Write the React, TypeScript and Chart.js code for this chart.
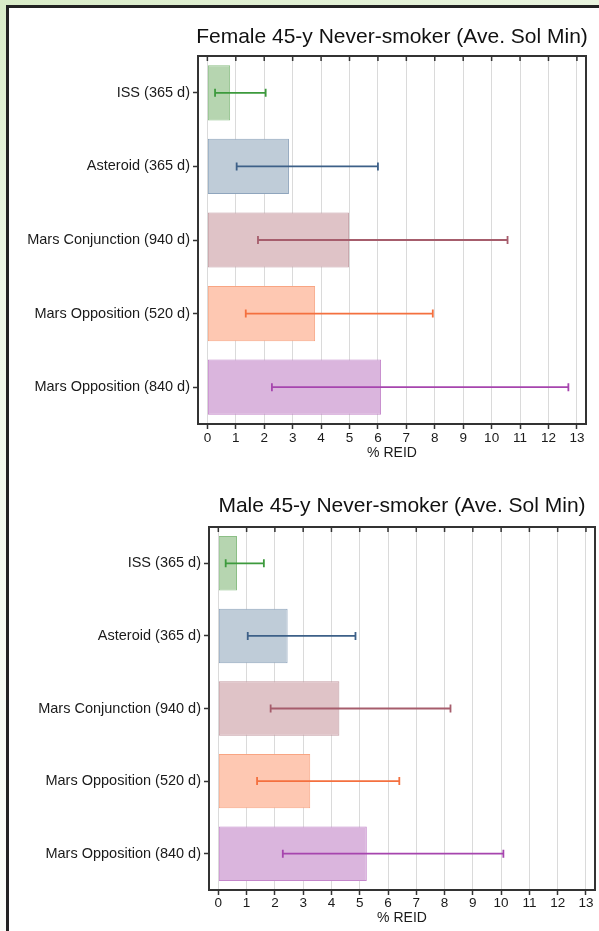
import React, { useEffect, useRef } from "react";
import { Chart, registerables } from "chart.js";

Chart.register(...registerables);

const CATEGORIES = [
  "ISS (365 d)",
  "Asteroid (365 d)",
  "Mars Conjunction (940 d)",
  "Mars Opposition (520 d)",
  "Mars Opposition (840 d)",
];

const FEMALE_REID = [0.8, 2.87, 4.98, 3.79, 6.11];
const FEMALE_LOW = [0.27, 1.03, 1.78, 1.35, 2.27];
const FEMALE_HIGH = [2.05, 6.0, 10.56, 7.93, 12.7];

const MALE_REID = [0.66, 2.45, 4.28, 3.25, 5.25];
const MALE_LOW = [0.26, 1.04, 1.85, 1.37, 2.28];
const MALE_HIGH = [1.61, 4.85, 8.21, 6.4, 10.08];

const X_TICKS = [0, 1, 2, 3, 4, 5, 6, 7, 8, 9, 10, 11, 12, 13];

const FEMALE_TITLE = "Female 45-y Never-smoker (Ave. Sol Min)";
const MALE_TITLE = "Male 45-y Never-smoker (Ave. Sol Min)";
const X_TITLE = "% REID";

const FILL = ["#b6d5b0", "#bfccd8", "#dfc3c7", "#fec8b2", "#dab5dd"];
const BORDER = ["#8cbf86", "#8fa5bd", "#c49ca3", "#f8a583", "#c487cb"];
const ERR = ["#3d9a3d", "#3d6088", "#a65d6c", "#f4703f", "#a645ae"];

const FONT = "'Liberation Sans', Arial, Helvetica, sans-serif";

type Opts = {
  title: string;
  values: number[];
  low: number[];
  high: number[];
  top: number;
  yWidth: number;
  right: number;
  xHeight: number;
  titleOffset: number;
  xTitlePad: number;
  tickPad: number;
};

function makeChart(canvas: HTMLCanvasElement, o: Opts) {
  const errorBars = {
    id: "errorBars",
    afterDatasetsDraw(chart: any) {
      const ctx = chart.ctx;
      const xs = chart.scales.x;
      const ys = chart.scales.y;
      ctx.save();
      o.values.forEach((_, i) => {
        const y = ys.getPixelForValue(i);
        const x1 = xs.getPixelForValue(o.low[i]);
        const x2 = xs.getPixelForValue(o.high[i]);
        ctx.strokeStyle = ERR[i];
        ctx.lineWidth = 1.8;
        ctx.beginPath();
        ctx.moveTo(x1, y);
        ctx.lineTo(x2, y);
        ctx.moveTo(x1, y - 4);
        ctx.lineTo(x1, y + 4);
        ctx.moveTo(x2, y - 4);
        ctx.lineTo(x2, y + 4);
        ctx.stroke();
      });
      ctx.restore();
    },
  };

  const frame = {
    id: "frame",
    afterDraw(chart: any) {
      const ctx = chart.ctx;
      const a = chart.chartArea;
      const xs = chart.scales.x;
      ctx.save();
      ctx.strokeStyle = "#333";
      ctx.lineWidth = 2;
      ctx.beginPath();
      ctx.moveTo(a.left - 1, a.top);
      ctx.lineTo(a.right, a.top);
      ctx.lineTo(a.right, a.bottom + 1);
      ctx.stroke();
      ctx.lineWidth = 1.5;
      ctx.beginPath();
      X_TICKS.forEach((v) => {
        const x = xs.getPixelForValue(v);
        ctx.moveTo(x, a.top);
        ctx.lineTo(x, a.top + 5);
      });
      ctx.stroke();
      ctx.fillStyle = "#111";
      ctx.font = `21px ${FONT}`;
      ctx.textAlign = "center";
      ctx.textBaseline = "middle";
      ctx.fillText(o.title, (a.left + a.right) / 2, a.top - o.titleOffset);
      ctx.restore();
    },
  };

  return new Chart(canvas, {
    type: "bar",
    data: {
      labels: CATEGORIES,
      datasets: [
        {
          data: o.values,
          backgroundColor: FILL,
          borderColor: BORDER,
          borderWidth: 1,
          borderSkipped: false,
          barPercentage: 0.75,
          categoryPercentage: 1,
        },
      ],
    },
    options: {
      indexAxis: "y",
      responsive: false,
      animation: false,
      events: [],
      layout: { padding: { top: o.top, right: o.right, left: 0, bottom: 0 } },
      plugins: {
        legend: { display: false },
        title: { display: false },
        tooltip: { enabled: false },
      },
      scales: {
        x: {
          type: "linear",
          min: -0.33,
          max: 13.32,
          afterBuildTicks: (s: any) => {
            s.ticks = X_TICKS.map((v) => ({ value: v }));
          },
          afterFit: (s: any) => {
            s.height = o.xHeight;
          },
          grid: {
            color: "#dadada",
            lineWidth: 1,
            drawTicks: true,
            tickLength: 5,
            tickColor: "#333",
            tickWidth: 1.5,
          },
          border: { display: true, color: "#333", width: 2 },
          ticks: {
            font: { family: FONT, size: 13.5 },
            color: "#1a1a1a",
            padding: o.tickPad,
            maxRotation: 0,
            autoSkip: false,
          },
          title: {
            display: true,
            text: X_TITLE,
            font: { family: FONT, size: 14 },
            color: "#1a1a1a",
            padding: { top: 0, bottom: o.xTitlePad },
          },
        },
        y: {
          type: "category",
          afterFit: (s: any) => {
            s.width = o.yWidth;
          },
          grid: {
            offset: false,
            drawOnChartArea: false,
            drawTicks: true,
            tickLength: 5,
            tickColor: "#333",
            tickWidth: 1.5,
          },
          border: { display: true, color: "#333", width: 2 },
          ticks: {
            font: { family: FONT, size: 14.5 },
            color: "#1a1a1a",
            padding: 3,
            autoSkip: false,
          },
        },
      },
    },
    plugins: [errorBars, frame],
  } as any);
}

export default function App() {
  const ref1 = useRef<HTMLCanvasElement>(null);
  const ref2 = useRef<HTMLCanvasElement>(null);

  useEffect(() => {
    const c1 = makeChart(ref1.current!, {
      title: FEMALE_TITLE,
      values: FEMALE_REID,
      low: FEMALE_LOW,
      high: FEMALE_HIGH,
      top: 56,
      yWidth: 198,
      right: 13,
      xHeight: 46,
      titleOffset: 19,
      xTitlePad: 8,
      tickPad: 1,
    });
    const c2 = makeChart(ref2.current!, {
      title: MALE_TITLE,
      values: MALE_REID,
      low: MALE_LOW,
      high: MALE_HIGH,
      top: 57,
      yWidth: 209,
      right: 4,
      xHeight: 41,
      titleOffset: 21,
      xTitlePad: 4,
      tickPad: 0,
    });
    return () => {
      c1.destroy();
      c2.destroy();
    };
  }, []);

  return (
    <div
      style={{
        position: "fixed",
        left: 0,
        top: 0,
        width: 599,
        height: 931,
        overflow: "hidden",
        background:
          "linear-gradient(160deg, #d9ecc8 0%, #eef7e6 25%, #f7fbf3 60%, #ffffff 100%)",
      }}
    >
      <div
        style={{
          position: "absolute",
          left: 6,
          top: 5,
          width: 620,
          height: 960,
          background: "#fff",
          borderLeft: "3px solid #222",
          borderTop: "3px solid #222",
        }}
      />
      <canvas
        ref={ref1}
        width={599}
        height={470}
        style={{ position: "absolute", left: 0, top: 0, width: 599, height: 470 }}
      />
      <canvas
        ref={ref2}
        width={599}
        height={461}
        style={{ position: "absolute", left: 0, top: 470, width: 599, height: 461 }}
      />
    </div>
  );
}
